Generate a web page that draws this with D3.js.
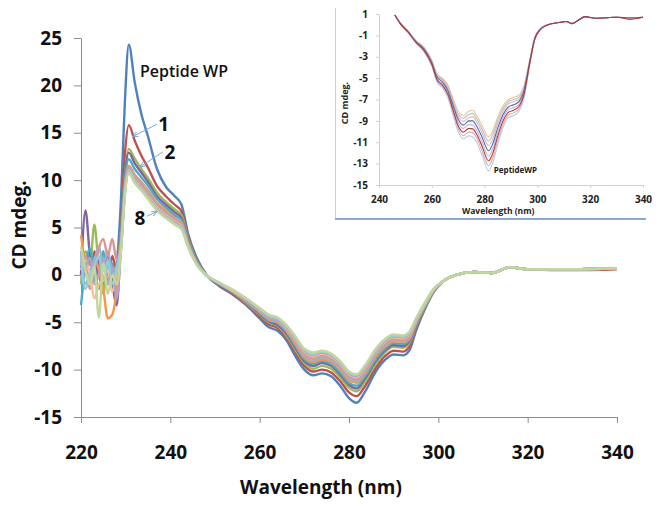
<!DOCTYPE html>
<html><head><meta charset="utf-8">
<script src="https://cdn.jsdelivr.net/npm/d3@7"></script>
<style>body{margin:0;background:#fff}svg{display:block}text{font-family:"Open Sans",sans-serif}</style>
</head><body><svg id="c" width="665" height="508"></svg>
<script>
// ---------- main chart data ----------
const wavelength = [220,221,222,223,224,225,226,227,228,229,229.8,230.7,232,233.5,235,237,239,241,242.5,244,246,248,251,254,257,260,262,264,266,268,270,272,274,276,278,280,281.7,283.5,286,288,290,292,293.5,295,297,299,301,304,308,312,316,320,330,340];
const xTicks = [220,240,260,280,300,320,340];
const yTicks = [-15,-10,-5,0,5,10,15,20,25];

const sWP = [1.5,0.2,2.2,-0.8,1.0,-1.2,0.5,-0.6,1.2,8.5, 18.0,24.3, 20.4,17.0,14.6,11.2,9.3,8.3,7.4,4.3,1.7,0.1, -1.2,-2.1,-3.2,-4.6,-5.5,-5.9,-6.9,-8.6,-10.0,-10.6,-10.4,-10.7,-11.7,-13.0, -13.5,-12.4,-10.2,-9.0,-8.4,-8.5,-8.0,-5.9,-3.6,-1.8,-0.7, 0.0,0.3,0.2,0.8,0.6,0.6,0.7];
const s1 = [0.5,1.8,-0.5,2.5,0.8,1.5,-1.0,2.0,0.3,5.5, 12.5,15.8, 14.2,12.6,11.3,9.4,8.3,7.4,6.7,4.0,1.5,0.0, -1.1,-2.0,-3.1,-4.4,-5.2,-5.6,-6.6,-8.2,-9.6,-10.2,-10.0,-10.3,-11.2,-12.4, -12.8,-11.8,-9.8,-8.6,-8.0,-8.1,-7.6,-5.6,-3.5,-1.7,-0.7, 0.0,0.3,0.2,0.8,0.6,0.5,0.6];
const s2 = [-1.0,2.5,1.0,5.3,0.5,-2.0,1.5,-1.5,0.0,5.0, 10.5,13.3, 12.3,11.2,10.2,8.7,7.7,6.9,6.3,3.8,1.4,0.0, -1.0,-1.9,-3.0,-4.2,-5.0,-5.4,-6.4,-7.9,-9.3,-9.9,-9.6,-9.9,-10.8,-11.9, -12.3,-11.3,-9.4,-8.2,-7.6,-7.7,-7.2,-5.4,-3.4,-1.7,-0.7, 0.0,0.3,0.2,0.8,0.6,0.6,0.7];
const s3 = [0.0,6.8,2.0,-0.5,1.5,0.5,2.2,-0.8,-3.2,4.5, 10.3,12.9, 11.8,10.8,9.8,8.3,7.4,6.6,6.0,3.6,1.3,0.0, -1.0,-1.9,-2.9,-4.1,-4.9,-5.3,-6.2,-7.7,-9.1,-9.6,-9.3,-9.6,-10.5,-11.6, -12.0,-11.0,-9.1,-8.0,-7.4,-7.5,-7.0,-5.3,-3.3,-1.6,-0.7, 0.0,0.3,0.2,0.8,0.6,0.6,0.7];
const s4 = [-3.2,0.8,2.8,0.2,-1.5,2.5,0.0,1.2,-2.0,4.0, 9.8,12.2, 11.2,10.3,9.4,8.0,7.1,6.3,5.8,3.5,1.3,0.0, -1.0,-1.8,-2.9,-4.0,-4.8,-5.1,-6.0,-7.5,-8.9,-9.4,-9.1,-9.4,-10.3,-11.4, -11.7,-10.8,-8.9,-7.8,-7.2,-7.3,-6.9,-5.2,-3.3,-1.6,-0.7, 0.0,0.3,0.2,0.8,0.6,0.6,0.7];
const s5 = [4.2,1.0,-0.5,1.8,0.5,-1.5,-4.6,-4.2,-1.5,3.5, 9.3,11.5, 10.6,9.8,8.9,7.6,6.8,6.0,5.5,3.3,1.2,0.0, -0.9,-1.8,-2.8,-3.9,-4.7,-5.0,-5.9,-7.3,-8.7,-9.2,-8.9,-9.2,-10.0,-11.1, -11.4,-10.5,-8.6,-7.6,-7.0,-7.1,-6.7,-5.1,-3.2,-1.6,-0.7, 0.0,0.3,0.2,0.8,0.6,0.6,0.7];
const s6 = [2.5,-1.0,0.5,1.5,3.0,1.0,2.5,0.5,1.0,3.8, 9.0,11.3, 10.4,9.6,8.7,7.4,6.6,5.9,5.4,3.2,1.2,0.0, -0.9,-1.7,-2.7,-3.8,-4.6,-4.9,-5.8,-7.1,-8.5,-9.0,-8.7,-9.0,-9.8,-10.9, -11.2,-10.3,-8.4,-7.4,-6.9,-7.0,-6.6,-5.0,-3.2,-1.6,-0.7, 0.0,0.3,0.2,0.8,0.6,0.6,0.7];
const s7 = [1.0,2.0,-1.5,0.5,2.8,3.8,2.0,3.8,1.5,3.5, 8.8,11.1, 10.2,9.4,8.5,7.3,6.5,5.8,5.3,3.2,1.1,0.0, -0.9,-1.7,-2.7,-3.8,-4.5,-4.8,-5.7,-7.0,-8.3,-8.8,-8.5,-8.8,-9.6,-10.7, -11.0,-10.1,-8.3,-7.3,-6.8,-6.9,-6.5,-4.9,-3.1,-1.6,-0.7, 0.0,0.3,0.2,0.8,0.6,0.6,0.7];
const s8 = [0.5,1.5,0.0,-2.5,-1.0,-0.5,0.5,-1.8,0.5,3.2, 8.6,11.0, 10.0,9.2,8.3,7.1,6.3,5.6,5.1,3.1,1.1,0.0, -0.9,-1.7,-2.6,-3.7,-4.4,-4.7,-5.6,-6.8,-8.1,-8.6,-8.3,-8.6,-9.4,-10.5, -10.8,-9.9,-8.1,-7.1,-6.6,-6.7,-6.3,-4.8,-3.1,-1.5,-0.7, 0.0,0.3,0.2,0.8,0.6,0.6,0.7];
const s9 = [-0.5,0.8,1.8,-1.0,0.0,1.8,-1.0,0.8,-2.5,3.0, 8.5,10.9, 9.9,9.1,8.2,7.0,6.2,5.5,5.0,3.0,1.1,0.0, -0.9,-1.6,-2.6,-3.7,-4.4,-4.7,-5.5,-6.7,-8.0,-8.5,-8.2,-8.5,-9.3,-10.4, -10.7,-9.8,-8.0,-7.0,-6.5,-6.6,-6.2,-4.7,-3.0,-1.5,-0.7, 0.0,0.3,0.2,0.8,0.6,0.6,0.7];
const s10 = [1.8,-1.5,0.0,1.0,2.0,-0.5,1.5,-1.0,0.8,3.0, 8.4,10.8, 9.8,9.0,8.1,6.9,6.1,5.4,4.9,3.0,1.0,0.0, -0.9,-1.6,-2.5,-3.6,-4.3,-4.6,-5.4,-6.6,-7.9,-8.4,-8.1,-8.4,-9.2,-10.3, -10.6,-9.7,-7.9,-6.9,-6.4,-6.5,-6.1,-4.7,-3.0,-1.5,-0.7, 0.0,0.3,0.2,0.8,0.6,0.6,0.7];
const s11 = [3.0,0.5,-1.0,0.8,-4.5,1.2,-2.0,0.0,-1.0,2.8, 8.3,10.7, 9.7,8.9,8.0,6.8,6.0,5.3,4.8,2.9,1.0,0.0, -0.8,-1.6,-2.5,-3.5,-4.2,-4.5,-5.3,-6.5,-7.8,-8.2,-8.0,-8.3,-9.1,-10.2, -10.5,-9.6,-7.8,-6.8,-6.3,-6.4,-6.0,-4.6,-2.9,-1.5,-0.7, 0.0,0.3,0.2,0.8,0.6,0.6,0.7];
const mainSeries = [sWP,s1,s2,s3,s4,s5,s6,s7,s8,s9,s10,s11];
const mainColors = ["#4F81BD","#C0504D","#9BBB59","#8064A2","#4BACC6","#F79646","#95B3D7","#D99694","#FAC090","#B3A2C7","#93CDDD","#C3D69B"];

// annotations (data units)
const labelPeptide = {text:"Peptide WP", wl:233.2, v:21.5};
const labelNums = [
  {text:"1", wl:237.3, v:15.9, fromWl:237.0, fromV:15.9, toWl:231.6, toV:14.6, anchor:"start"},
  {text:"2", wl:238.7, v:12.9, fromWl:238.4, fromV:13.0, toWl:233.2, toV:11.4, anchor:"start"},
  {text:"8", wl:234.4, v:6.0, fromWl:234.8, fromV:6.2, toWl:237.0, toV:6.7, anchor:"end"}
];

// ---------- inset data ----------
const insetWl = [246,248,251,254,257,260,262,264,266,268,270,272,274,275.5,277,279,281.5,283,285,287,289,291,293,295,297,299,301,304,308,311,313,316,318,322,326,330,335,340];
const insetXTicks = [240,260,280,300,320,340];
const insetYTicks = [1,-1,-3,-5,-7,-9,-11,-13,-15];
const iA = [0.9,0.2,-0.6,-1.5,-2.1,-3.3,-4.6,-5.0,-5.6,-6.9,-8.1,-8.5,-8.1,-8.0,-8.5,-9.4,-10.5,-10.0,-8.6,-7.6,-7.0,-6.8,-6.6,-5.6,-3.4,-1.2,-0.4,0.0,0.2,0.3,0.1,0.5,0.75,0.6,0.65,0.7,0.65,0.7];
const iB = [0.9,0.2,-0.6,-1.5,-2.15,-3.4,-4.7,-5.1,-5.75,-7.1,-8.35,-8.75,-8.4,-8.3,-8.8,-9.75,-10.9,-10.35,-8.9,-7.85,-7.2,-7.0,-6.8,-5.75,-3.45,-1.2,-0.4,0.0,0.2,0.3,0.1,0.5,0.75,0.6,0.65,0.7,0.65,0.7];
const iC = [0.9,0.2,-0.6,-1.55,-2.2,-3.45,-4.8,-5.2,-5.9,-7.3,-8.6,-9.05,-8.7,-8.6,-9.1,-10.1,-11.3,-10.75,-9.25,-8.1,-7.4,-7.2,-7.0,-5.9,-3.5,-1.25,-0.4,0.0,0.2,0.3,0.1,0.5,0.75,0.6,0.65,0.7,0.6,0.7];
const iD = [0.9,0.15,-0.65,-1.6,-2.25,-3.55,-4.9,-5.35,-6.1,-7.5,-8.85,-9.4,-9.0,-9.0,-9.5,-10.5,-11.8,-11.2,-9.65,-8.4,-7.7,-7.5,-7.2,-6.1,-3.6,-1.3,-0.45,0.0,0.2,0.3,0.1,0.5,0.75,0.6,0.65,0.7,0.65,0.7];
const iE = [0.9,0.15,-0.65,-1.6,-2.3,-3.65,-5.05,-5.5,-6.25,-7.7,-9.15,-9.7,-9.35,-9.4,-9.9,-10.95,-12.3,-11.65,-10.05,-8.7,-7.95,-7.75,-7.45,-6.25,-3.65,-1.3,-0.45,0.0,0.2,0.3,0.1,0.5,0.75,0.6,0.65,0.7,0.65,0.7];
const iF = [0.9,0.1,-0.7,-1.65,-2.4,-3.7,-5.15,-5.65,-6.45,-7.95,-9.45,-10.05,-9.7,-9.75,-10.25,-11.35,-12.75,-12.1,-10.4,-9.0,-8.2,-8.0,-7.65,-6.45,-3.75,-1.35,-0.5,0.0,0.2,0.3,0.1,0.5,0.75,0.6,0.65,0.7,0.5,0.7];
const iG = [0.9,0.1,-0.7,-1.7,-2.45,-3.8,-5.3,-5.75,-6.6,-8.2,-9.7,-10.4,-10.05,-10.1,-10.6,-11.8,-13.2,-12.55,-10.8,-9.3,-8.45,-8.25,-7.9,-6.6,-3.8,-1.4,-0.5,0.0,0.2,0.3,0.1,0.5,0.75,0.6,0.65,0.7,0.65,0.7];
const iH = [0.9,0.1,-0.7,-1.7,-2.5,-3.9,-5.4,-5.9,-6.8,-8.4,-10.0,-10.7,-10.4,-10.5,-11.0,-12.2,-13.7,-13.0,-11.2,-9.6,-8.7,-8.5,-8.1,-6.8,-3.9,-1.4,-0.5,0.0,0.2,0.3,0.1,0.5,0.75,0.6,0.65,0.7,0.65,0.7];
const insetSeries = [iA,iB,iC,iE,iG,iH,iD,iF];
const insetColors = ["#F2C48E","#B4BFD1","#E3B7B5","#C5B6DC","#E9AAA8","#B5CAE6","#4A6CB0","#B03A3A"];
const insetLabel = {text:"PeptideWP", wl:283.5, v:-13.6};

// ---------- drawing ----------
const svg = d3.select("#c");
const axisColor = "#8c8c8c";
const fmt = d => String(d);

// main scales
const x = d3.scaleLinear().domain([220,340]).range([81,617]);
const y = d3.scaleLinear().domain([-15,25]).range([417,38]);

const gy = svg.append("g").attr("transform","translate(81,0)")
  .call(d3.axisLeft(y).tickValues(yTicks).tickFormat(fmt).tickSize(7).tickSizeOuter(0).tickPadding(12));
const gx = svg.append("g").attr("transform","translate(0,417)")
  .call(d3.axisBottom(x).tickValues(xTicks).tickFormat(fmt).tickSize(6).tickSizeOuter(0).tickPadding(23));
[gx,gy].forEach(g=>{
  g.selectAll("path,line").attr("stroke",axisColor).attr("stroke-width",1);
  g.selectAll("text").attr("font-size",19).attr("font-weight",700).attr("fill","#111")
   .attr("font-family","'Open Sans',sans-serif");
});

const line = d3.line().x((d,i)=>x(wavelength[i])).y(d=>y(d)).curve(d3.curveMonotoneX);
svg.append("g").selectAll("path").data(mainSeries).join("path")
  .attr("d",d=>line(d)).attr("fill","none")
  .attr("stroke",(d,i)=>mainColors[i]).attr("stroke-width",2.4).attr("stroke-linejoin","round");

// axis titles
svg.append("text").attr("x",321).attr("y",494).attr("text-anchor","middle")
  .attr("font-size",19).attr("font-weight",700).attr("fill","#111").text("Wavelength (nm)");
svg.append("text").attr("transform","translate(26,225) rotate(-90)").attr("text-anchor","middle")
  .attr("font-size",19).attr("font-weight",700).attr("fill","#111").text("CD mdeg.");

// annotations
svg.append("text").attr("x",x(labelPeptide.wl)).attr("y",y(labelPeptide.v)).attr("dy","0.35em")
  .attr("font-size",16).attr("font-weight",600).attr("fill","#111").text(labelPeptide.text);
const defs = svg.append("defs");
defs.append("marker").attr("id","ah").attr("viewBox","0 0 10 10").attr("refX",9).attr("refY",5)
  .attr("markerWidth",6).attr("markerHeight",6).attr("orient","auto")
  .append("path").attr("d","M0,1 L10,5 L0,9").attr("fill","none").attr("stroke","#7EA6D6").attr("stroke-width",1.5);
labelNums.forEach(a=>{
  svg.append("line").attr("x1",x(a.fromWl)).attr("y1",y(a.fromV)).attr("x2",x(a.toWl)).attr("y2",y(a.toV))
    .attr("stroke","#7EA6D6").attr("stroke-width",1).attr("marker-end","url(#ah)");
  svg.append("text").attr("x",x(a.wl)).attr("y",y(a.v)).attr("dy","0.36em").attr("text-anchor",a.anchor)
    .attr("font-size",19).attr("font-weight",700).attr("fill","#111").text(a.text);
});

// ---------- inset ----------
const ins = svg.append("g");
ins.append("rect").attr("x",336).attr("y",8).attr("width",312).attr("height",211).attr("fill","#fff");
ins.append("line").attr("x1",335.5).attr("x2",335.5).attr("y1",8).attr("y2",219)
  .attr("stroke","#c5d0e2").attr("stroke-width",1);
ins.append("line").attr("x1",335).attr("x2",646).attr("y1",219).attr("y2",219)
  .attr("stroke","#8aa8d0").attr("stroke-width",2);

const xi = d3.scaleLinear().domain([240,340]).range([379,643]);
const yi = d3.scaleLinear().domain([-15,1]).range([185,14]);
const giy = ins.append("g").attr("transform","translate(379,0)")
  .call(d3.axisLeft(yi).tickValues(insetYTicks).tickSize(3).tickSizeOuter(0).tickPadding(8).tickFormat(fmt));
const gix = ins.append("g").attr("transform","translate(0,185)")
  .call(d3.axisBottom(xi).tickValues(insetXTicks).tickSize(3).tickSizeOuter(0).tickPadding(8).tickFormat(fmt));
[gix,giy].forEach(g=>{
  g.selectAll("path,line").attr("stroke","#d0d0d0").attr("stroke-width",1);
  g.selectAll("text").attr("font-size",10).attr("font-weight",700).attr("fill","#222")
   .attr("font-family","'Open Sans',sans-serif");
});
const iline = d3.line().x((d,i)=>xi(insetWl[i])).y(d=>yi(d)).curve(d3.curveMonotoneX);
ins.append("g").selectAll("path").data(insetSeries).join("path")
  .attr("d",d=>iline(d)).attr("fill","none")
  .attr("stroke",(d,i)=>insetColors[i]).attr("stroke-width",1.1);
ins.append("text").attr("x",462).attr("y",214).attr("text-anchor","start")
  .attr("font-size",8.5).attr("font-weight",700).attr("fill","#222").text("Wavelength (nm)");
ins.append("text").attr("transform","translate(348,103) rotate(-90)").attr("text-anchor","middle")
  .attr("font-size",9).attr("font-weight",700).attr("fill","#222").text("CD mdeg.");
ins.append("text").attr("x",xi(insetLabel.wl)).attr("y",yi(insetLabel.v)).attr("dy","0.35em")
  .attr("font-size",8).attr("font-weight",700).attr("fill","#222").text(insetLabel.text);
</script></body></html>
